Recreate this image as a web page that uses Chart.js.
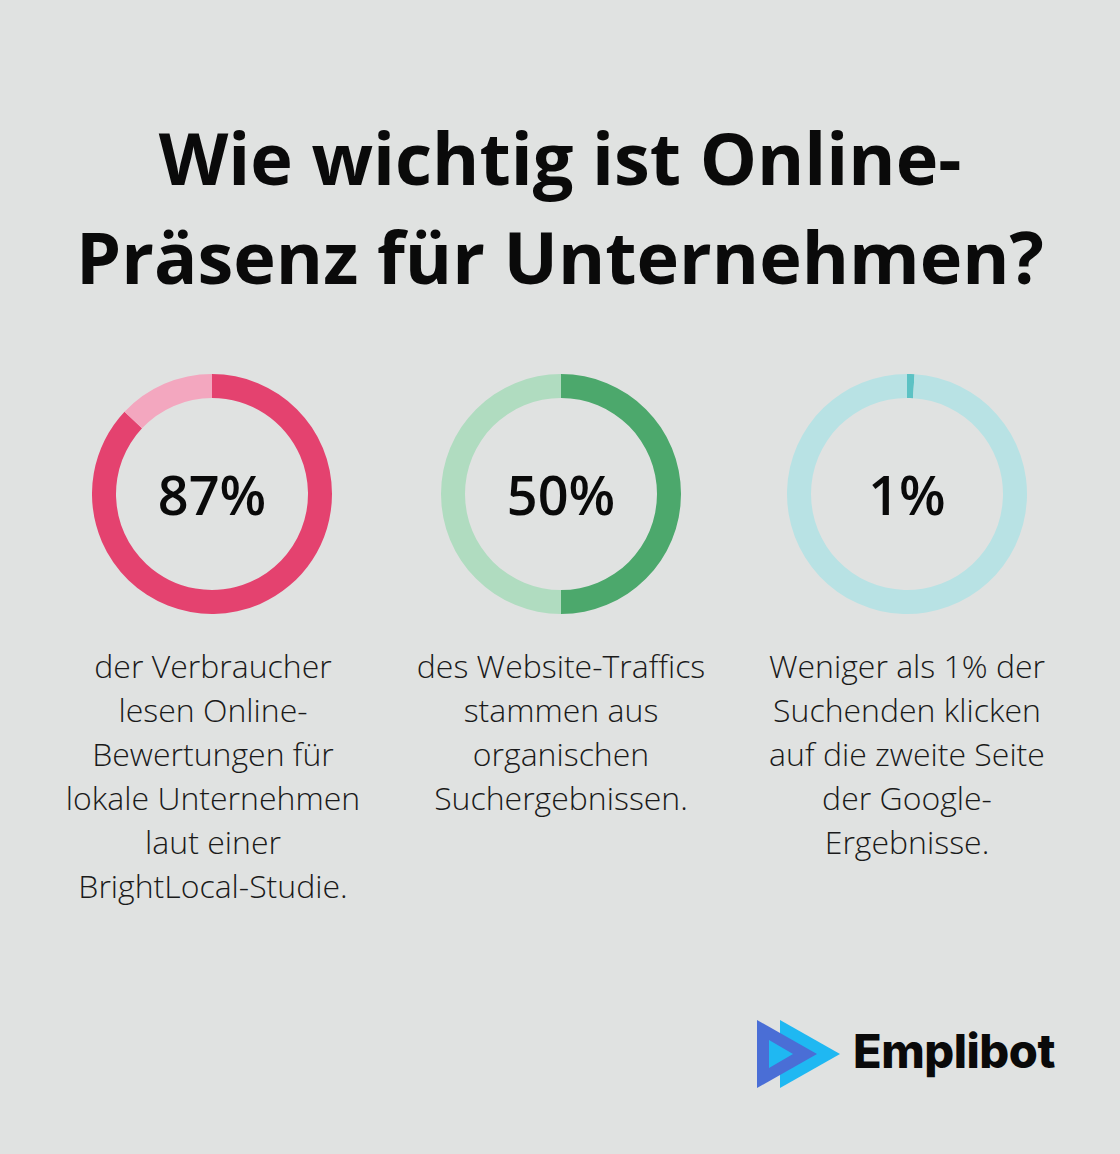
<!DOCTYPE html>
<html><head><meta charset="utf-8">
<script src="https://cdn.jsdelivr.net/npm/chart.js@4/dist/chart.umd.min.js"></script>
<style>
html,body{margin:0;padding:0;}
body{width:1120px;height:1154px;background:#E0E2E1;position:relative;overflow:hidden;font-family:"Open Sans",sans-serif;color:#111;}
#title{position:absolute;left:0;width:1120px;top:108px;text-align:center;font-weight:700;font-size:72px;line-height:99px;color:#0a0a0a;}
.cw{position:absolute;width:240px;height:240px;top:374px;}
.cw canvas{position:absolute;left:0;top:0;}
.pct{position:absolute;left:0;top:0;width:240px;height:240px;display:flex;align-items:center;justify-content:center;font-size:54px;font-weight:600;color:#0a0a0a;}
.desc{position:absolute;top:644px;width:360px;text-align:center;font-size:32px;font-weight:300;line-height:44px;color:#1a1a1a;}
#logo{position:absolute;left:757px;top:1020px;}
#logotext{position:absolute;left:853px;top:1022px;font-family:"Inter",sans-serif;font-weight:800;font-size:47px;letter-spacing:-0.5px;color:#0a0a0a;}
</style></head><body>
<div id="title">Wie wichtig ist Online-<br>Präsenz für Unternehmen?</div>
<div class="cw" style="left:92px"><canvas id="c0" width="240" height="240"></canvas><div class="pct" id="p0"></div></div>
<div class="cw" style="left:441px"><canvas id="c1" width="240" height="240"></canvas><div class="pct" id="p1"></div></div>
<div class="cw" style="left:787px"><canvas id="c2" width="240" height="240"></canvas><div class="pct" id="p2"></div></div>
<div class="desc" style="left:33px" id="d0"></div>
<div class="desc" style="left:381px" id="d1"></div>
<div class="desc" style="left:727px" id="d2"></div>
<svg id="logo" width="84" height="68" viewBox="0 0 84 68">
<polygon points="23,0 83,34 23,68" fill="#1FB8F2"/>
<polygon points="0,0 60,34 0,68" fill="#4A6ED6"/>
<polygon points="12,20 36,34 12,48" fill="#1FB8F2"/>
</svg>
<div id="logotext">Emplibot</div>
<script>
const values = [87, 50, 1];
const labels = ["87%", "50%", "1%"];
const descriptions = [
  ["der Verbraucher","lesen Online-","Bewertungen für","lokale Unternehmen","laut einer","BrightLocal-Studie."],
  ["des Website-Traffics","stammen aus","organischen","Suchergebnissen."],
  ["Weniger als 1% der","Suchenden klicken","auf die zweite Seite","der Google-","Ergebnisse."]
];
const mainColors = ["#E4426F", "#4CA86C", "#5CC2C4"];
const restColors = ["#F3A7BF", "#B0DCC0", "#B8E2E4"];

values.forEach((v, i) => {
  document.getElementById('p' + i).textContent = labels[i];
  document.getElementById('d' + i).innerHTML = descriptions[i].join('<br>');
  new Chart(document.getElementById('c' + i), {
    type: 'doughnut',
    data: {
      labels: ['value', 'rest'],
      datasets: [{
        data: [v, 100 - v],
        backgroundColor: [mainColors[i], restColors[i]],
        borderWidth: 0
      }]
    },
    options: {
      responsive: false,
      animation: false,
      cutout: '80%',
      layout: { padding: 0 },
      plugins: { legend: { display: false }, tooltip: { enabled: false } }
    }
  });
});
</script>
</body></html>
